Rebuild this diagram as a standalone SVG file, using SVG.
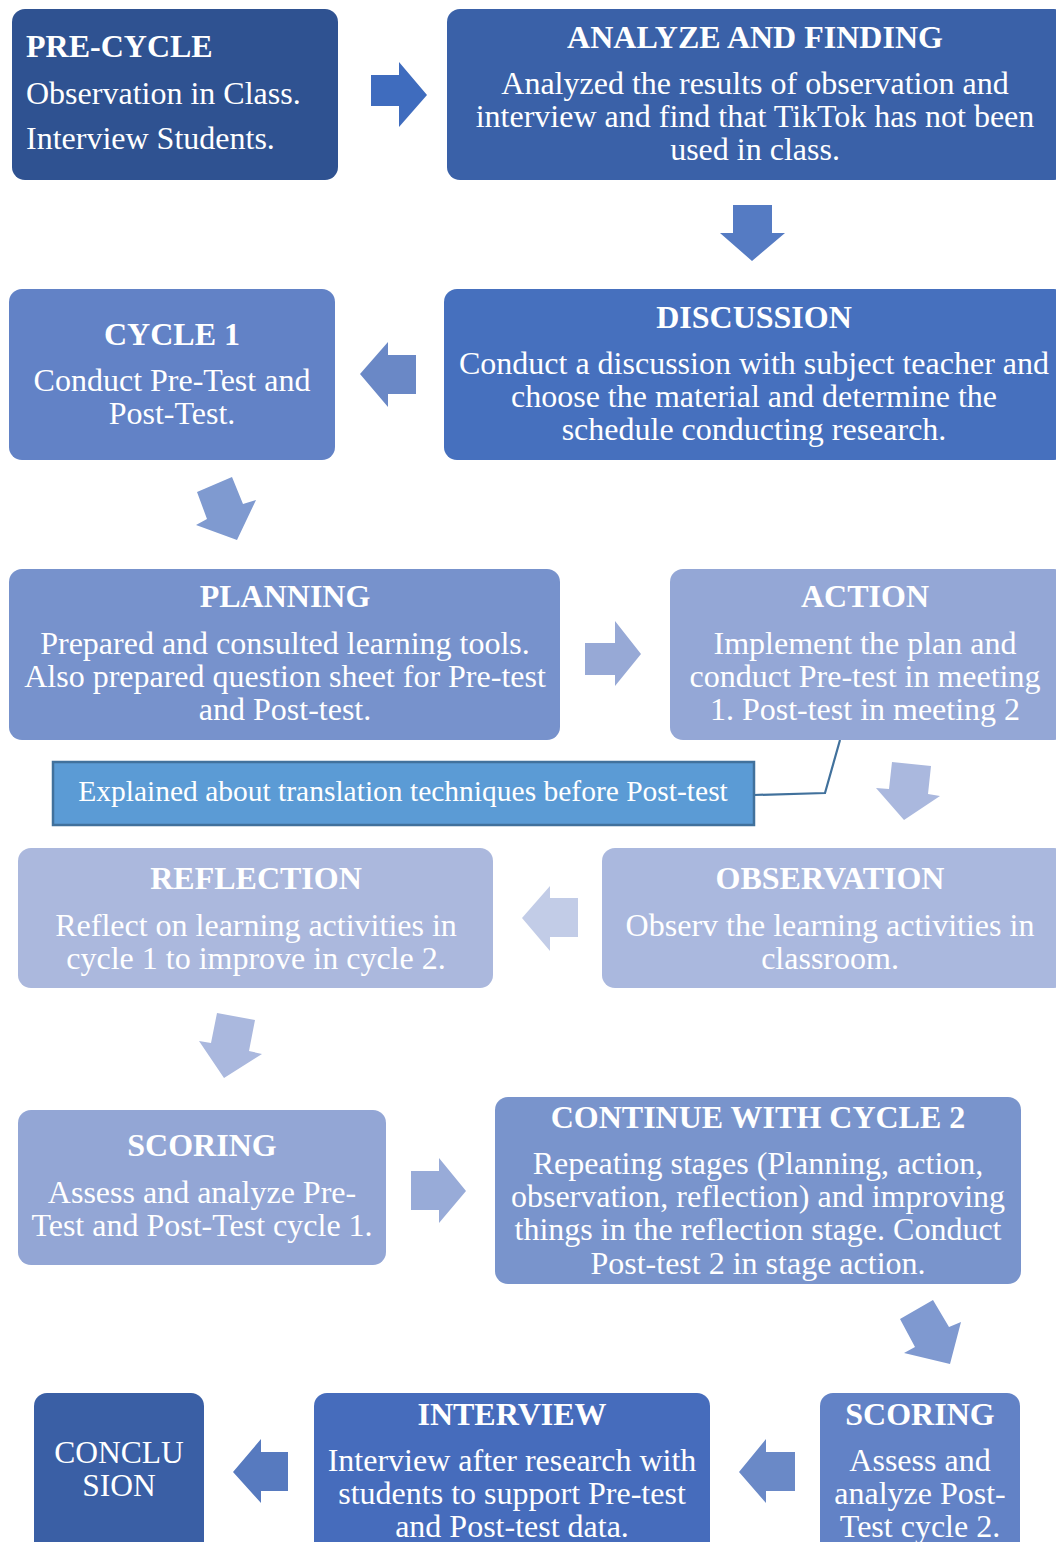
<svg xmlns="http://www.w3.org/2000/svg" width="1056" height="1542" viewBox="0 0 1056 1542">
  <style>
    text { font-family: "Liberation Serif", "Times New Roman", serif; fill: #ffffff; }
    .t { font-size: 32px; font-weight: bold; text-anchor: middle; }
    .b { font-size: 32px; text-anchor: middle; }
    .l { text-anchor: start; }
    .note { font-size: 29.5px; text-anchor: middle; }
  </style>
  <rect width="1056" height="1542" fill="#ffffff"/>

  <!-- connectors: block arrows between stages and the callout leader -->
  <g id="connectors">
    <polygon points="371,75 399,75 399,62 427,95 399,127 399,106 371,106" fill="#3F6CBE"/>
    <polygon points="733,205 772,205 772,233 785,233 752,261 720,233 733,233" fill="#557BC3"/>
    <polygon points="416,355 416,394 388,394 388,407 360,374 388,342 388,355" fill="#6A88C6"/>
    <polygon points="197,492 232,477 243,504 256,500 237,540 196,525 207,519" fill="#7F9AD0"/>
    <polygon points="585,643 615,643 615,621 641,654 615,686 615,675 585,675" fill="#97A9D6"/>
    <polygon points="892,762 931,766 928,794 940,796 904,820 876,788 889,789" fill="#AAB8DE"/>
    <polygon points="578,898 578,937 550,937 550,951 522,918 550,886 550,898" fill="#C2CCE7"/>
    <polygon points="217,1013 255,1020 249,1051 262,1054 224,1078 199,1041 211,1043" fill="#AAB8DE"/>
    <polygon points="411,1171 439,1171 439,1158 466,1191 439,1223 439,1210 411,1210" fill="#98ABD8"/>
    <polygon points="900,1319 933,1300 949,1327 961,1322 950,1364 904,1353 915,1347" fill="#7F99D0"/>
    <polygon points="795,1452 795,1491 766,1491 766,1503 739,1472 766,1439 766,1452" fill="#6A89C7"/>
    <polygon points="288,1452 288,1491 261,1491 261,1503 233,1472 261,1439 261,1452" fill="#577ABF"/>
    <polyline points="840,740 825,793 754,795" fill="none" stroke="#41719C" stroke-width="2.2"/>
  </g>

  <g id="pre-cycle">
    <rect x="12" y="9" width="326" height="171" rx="13" fill="#2F5291"/>
    <text class="t l" x="26" y="57">PRE-CYCLE</text>
    <text class="b l" x="26" y="104">Observation in Class.</text>
    <text class="b l" x="26" y="149">Interview Students.</text>
  </g>

  <g id="analyze-finding">
    <rect x="447" y="9" width="620" height="171" rx="13" fill="#3A61A8"/>
    <text class="t" x="755" y="48">ANALYZE AND FINDING</text>
    <text class="b" x="755" y="94">Analyzed the results of observation and</text>
    <text class="b" x="755" y="127">interview and find that TikTok has not been</text>
    <text class="b" x="755" y="160">used in class.</text>
  </g>

  <g id="discussion">
    <rect x="444" y="289" width="623" height="171" rx="13" fill="#4670BE"/>
    <text class="t" x="754" y="328">DISCUSSION</text>
    <text class="b" x="754" y="374">Conduct a discussion with subject teacher and</text>
    <text class="b" x="754" y="407">choose the material and determine the</text>
    <text class="b" x="754" y="440">schedule conducting research.</text>
  </g>

  <g id="cycle-1">
    <rect x="9" y="289" width="326" height="171" rx="13" fill="#6282C6"/>
    <text class="t" x="172" y="345">CYCLE 1</text>
    <text class="b" x="172" y="391">Conduct Pre-Test and</text>
    <text class="b" x="172" y="424">Post-Test.</text>
  </g>

  <g id="planning">
    <rect x="9" y="569" width="551" height="171" rx="13" fill="#7792CC"/>
    <text class="t" x="285" y="607">PLANNING</text>
    <text class="b" x="285" y="654">Prepared and consulted learning tools.</text>
    <text class="b" x="285" y="687">Also prepared question sheet for Pre-test</text>
    <text class="b" x="285" y="720">and Post-test.</text>
  </g>

  <g id="action">
    <rect x="670" y="569" width="397" height="171" rx="13" fill="#94A7D6"/>
    <text class="t" x="865" y="607">ACTION</text>
    <text class="b" x="865" y="654">Implement the plan and</text>
    <text class="b" x="865" y="687">conduct Pre-test in meeting</text>
    <text class="b" x="865" y="720">1. Post-test in meeting 2</text>
  </g>

  <g id="callout">
    <rect x="53" y="762" width="701" height="63" fill="#5B9BD5" stroke="#41719C" stroke-width="2.5"/>
    <text class="note" x="403" y="801">Explained about translation techniques before Post-test</text>
  </g>

  <g id="observation">
    <rect x="602" y="848" width="465" height="140" rx="13" fill="#AAB8DE"/>
    <text class="t" x="830" y="889">OBSERVATION</text>
    <text class="b" x="830" y="936">Observ the learning activities in</text>
    <text class="b" x="830" y="969">classroom.</text>
  </g>

  <g id="reflection">
    <rect x="18" y="848" width="475" height="140" rx="13" fill="#ABB8DD"/>
    <text class="t" x="256" y="889">REFLECTION</text>
    <text class="b" x="256" y="936">Reflect on learning activities in</text>
    <text class="b" x="256" y="969">cycle 1 to improve in cycle 2.</text>
  </g>

  <g id="scoring-1">
    <rect x="18" y="1110" width="368" height="155" rx="13" fill="#93A6D5"/>
    <text class="t" x="202" y="1156">SCORING</text>
    <text class="b" x="202" y="1203">Assess and analyze Pre-</text>
    <text class="b" x="202" y="1236">Test and Post-Test cycle 1.</text>
  </g>

  <g id="cycle-2">
    <rect x="495" y="1097" width="526" height="187" rx="13" fill="#7994CC"/>
    <text class="t" x="758" y="1128">CONTINUE WITH CYCLE 2</text>
    <text class="b" x="758" y="1174">Repeating stages (Planning, action,</text>
    <text class="b" x="758" y="1207">observation, reflection) and improving</text>
    <text class="b" x="758" y="1240">things in the reflection stage. Conduct</text>
    <text class="b" x="758" y="1274">Post-test 2 in stage action.</text>
  </g>

  <g id="scoring-2">
    <rect x="820" y="1393" width="200" height="170" rx="13" fill="#6282C6"/>
    <text class="t" x="920" y="1425">SCORING</text>
    <text class="b" x="920" y="1471">Assess and</text>
    <text class="b" x="920" y="1504">analyze Post-</text>
    <text class="b" x="920" y="1537">Test cycle 2.</text>
  </g>

  <g id="interview">
    <rect x="314" y="1393" width="396" height="170" rx="13" fill="#466CBC"/>
    <text class="t" x="512" y="1425">INTERVIEW</text>
    <text class="b" x="512" y="1471">Interview after research with</text>
    <text class="b" x="512" y="1504">students to support Pre-test</text>
    <text class="b" x="512" y="1537">and Post-test data.</text>
  </g>

  <g id="conclusion">
    <rect x="34" y="1393" width="170" height="170" rx="13" fill="#3A5FA5"/>
    <text class="b" x="119" y="1463" style="font-size:31.5px">CONCLU</text>
    <text class="b" x="119" y="1496" style="font-size:31.5px">SION</text>
  </g>
</svg>
